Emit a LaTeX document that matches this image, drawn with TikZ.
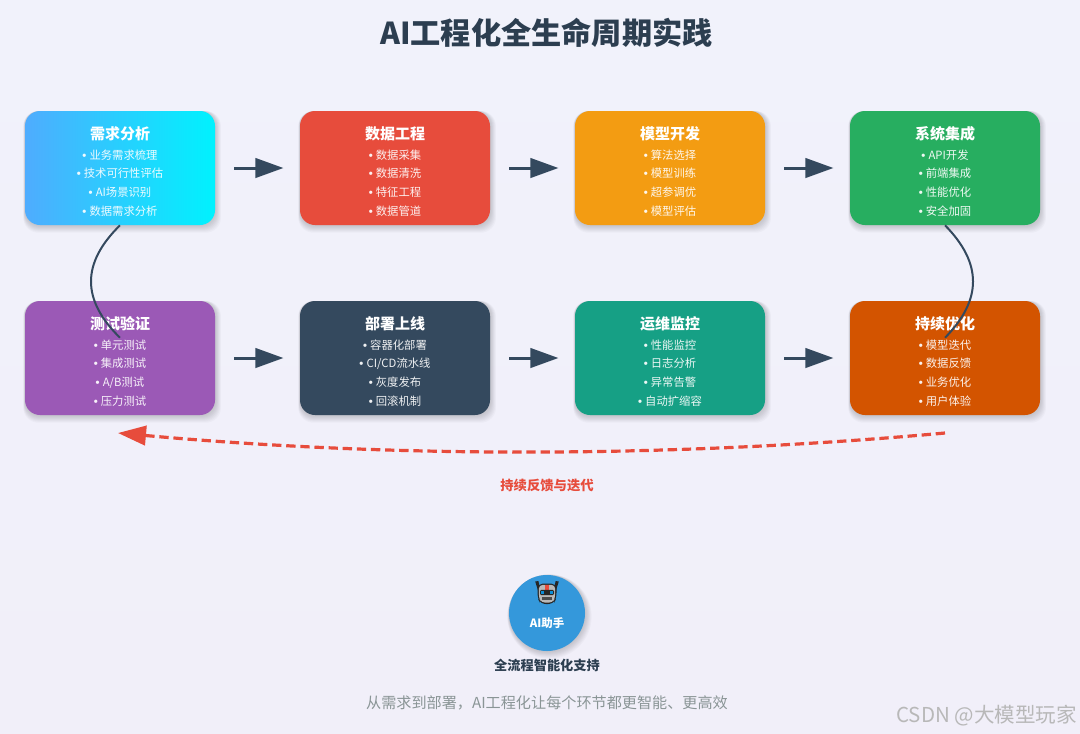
\documentclass[tikz,border=0pt]{standalone}
\usepackage{fontspec}
\setmainfont{Noto Sans CJK SC}
\newfontfamily\bulletfont{Liberation Sans}
\usetikzlibrary{arrows.meta}
\definecolor{inkdark}{HTML}{2C3E50}
\definecolor{slatec}{HTML}{34495E}
\definecolor{redc}{HTML}{E74C3C}
\definecolor{orangec}{HTML}{F39C12}
\definecolor{greenc}{HTML}{27AE60}
\definecolor{purplec}{HTML}{9B59B6}
\definecolor{tealc}{HTML}{16A085}
\definecolor{pumpkinc}{HTML}{D35400}
\definecolor{bluec}{HTML}{3498DB}
\definecolor{skyA}{HTML}{4FACFE}
\definecolor{skyB}{HTML}{00F2FE}
\definecolor{grayc}{HTML}{8A9596}
\definecolor{bgtop}{HTML}{F1F2FB}
\definecolor{bgbot}{HTML}{F1EFF9}
\newcommand\fpx[1]{\fontsize{#1}{14.1pt}\selectfont}
\newcommand\itemline[1]{{\bulletfont\bfseries •\ }#1\par}
\tikzset{
  shadowpiece/.style={fill=black,fill opacity=.024},
  card/.style={rounded corners=11.25pt,inner sep=0pt,text=white},
  flow/.style={draw=slatec,line width=2.25pt,-{Triangle[length=21pt,width=14.5pt]}},
  loopline/.style={draw=slatec,line width=1.5pt},
  feedback/.style={draw=redc,line width=2.4pt,dash pattern=on 7pt off 3.6pt,-{Triangle[length=21pt,width=14.5pt]}},
  heading/.style={font=\bfseries\fpx{22.65pt},text=inkdark},
}
\newcommand\card[9]{%
  \foreach \k in {0.6,1.5,2.4,3.3,4.2,5.1,6,7}
    \fill[shadowpiece,rounded corners=11.25pt]
      ({#2-95-0.25*\k},{#3-57}) rectangle ({#2+95+0.85*\k},{#3+57+1.1*\k});
  \node[card,#4] (#1) at (#2,#3) {\parbox[c][85.5pt][t]{142.5pt}{\centering
    \fontsize{8.5pt}{14.1pt}\selectfont
    {\bfseries\fontsize{11.25pt}{14.1pt}\selectfont\rule{0pt}{21.3pt}#5\par}\vspace{.6pt}%
    \pgfsetfillopacity{.92}%
    \itemline{#6}\itemline{#7}\itemline{#8}\itemline{#9}}};}
\begin{document}
\begin{tikzpicture}[x=0.75pt,y=-0.75pt]
\useasboundingbox (0,0) rectangle (1080,733);
\fill[top color=bgtop,bottom color=bgbot] (0,0) rectangle (1080,733);

\node[heading] (title) at (546.5,33) {AI工程化全生命周期实践};

% first row
\card{a1}{120}{168}{left color=skyA,right color=skyB}{需求分析}{业务需求梳理}{技术可行性评估}{AI场景识别}{数据需求分析}
\card{a2}{395}{168}{fill=redc}{数据工程}{数据采集}{数据清洗}{特征工程}{数据管道}
\card{a3}{670}{168}{fill=orangec}{模型开发}{算法选择}{模型训练}{超参调优}{模型评估}
\card{a4}{945}{168}{fill=greenc}{系统集成}{API开发}{前端集成}{性能优化}{安全加固}
% second row
\card{b1}{120}{358}{fill=purplec}{测试验证}{单元测试}{集成测试}{A/B测试}{压力测试}
\card{b2}{395}{358}{fill=slatec}{部署上线}{容器化部署}{CI/CD流水线}{灰度发布}{回滚机制}
\card{b3}{670}{358}{fill=tealc}{运维监控}{性能监控}{日志分析}{异常告警}{自动扩缩容}
\card{b4}{945}{358}{fill=pumpkinc}{持续优化}{模型迭代}{数据反馈}{业务优化}{用户体验}

% horizontal arrows
\foreach \p/\q in {a1/a2,a2/a3,a3/a4,b1/b2,b2/b3,b3/b4}
  \draw[flow] ([xshift=14.25pt]\p.east) -- ([xshift=-12.2pt]\q.west);

% curved links
\coordinate (b1in) at ([yshift=-27.75pt]b1.north);
\coordinate (b4in) at ([yshift=-27.75pt]b4.north);
\draw[loopline] (a1.south) .. controls +(-29pt,-28.5pt) and +(-29pt,28.5pt) .. (b1in);
\draw[loopline] (a4.south) .. controls +(28pt,-28.5pt) and +(28pt,28.5pt) .. (b4in);

% feedback loop
\coordinate (fbstart) at (945,433);
\coordinate (fbend) at (118,433);
\draw[feedback] (fbstart) .. controls (670,458) and (393,458) .. (fbend);
\node[font=\bfseries\fpx{10pt},text=redc] (fblabel) at (547,485) {持续反馈与迭代};

% assistant
\foreach \k in {0.6,1.5,2.4,3.3,4.2,5.1,6,7}
  \fill[shadowpiece] ({547+0.35*\k},{613+0.5*\k}) circle ({(38+0.6*\k)*0.75pt});
\node[circle,minimum size=57pt,inner sep=0pt,fill=bluec] (ai) at (547,613) {};
\node[font=\bfseries\fpx{8.6pt},text=white] (ailabel) at (547,623) {AI助手};
% robot icon
\begin{scope}[shift={(547,592)}]
  \fill[black!85] (-11.8,-10.5) -- (-8.6,-11) -- (-7,-3) -- (-8.8,-1) -- cycle;
  \fill[black!85] (11.8,-10.5) -- (8.6,-11) -- (7,-3) -- (8.8,-1) -- cycle;
  \fill[black!85,rounded corners=4pt] (-9.5,-8.5) -- (9.5,-8.5) -- (9.5,6) -- (6.5,12) -- (-6.5,12) -- (-9.5,6) -- cycle;
  \fill[black!28,rounded corners=3pt] (-8.2,-7.2) -- (8.2,-7.2) -- (8.2,5.5) -- (5.8,10.7) -- (-5.8,10.7) -- (-8.2,5.5) -- cycle;
  \fill[redc] (-1.7,-6.8) rectangle (1.7,-2.5);
  \fill[black!85,rounded corners=1pt] (-7,-2.2) rectangle (7,3.2);
  \fill[cyan!75!blue] (-5.6,-1) rectangle (-2.8,1.8);
  \fill[cyan!75!blue] (2.8,-1) rectangle (5.6,1.8);
  \fill[black!70] (-4.8,5) rectangle (4.8,8.2);
\end{scope}
\node[font=\bfseries\fpx{9.9pt},text=inkdark] (support) at (547,665) {全流程智能化支持};
\node[font=\fpx{11.35pt},text=grayc] (footer) at (547,703) {从需求到部署，AI工程化让每个环节都更智能、更高效};

% watermark
\node[font=\fpx{15.4pt},text=black!28,anchor=east,inner sep=0pt] (mark) at (1077,716) {CSDN @大模型玩家};
\end{tikzpicture}
\end{document}
